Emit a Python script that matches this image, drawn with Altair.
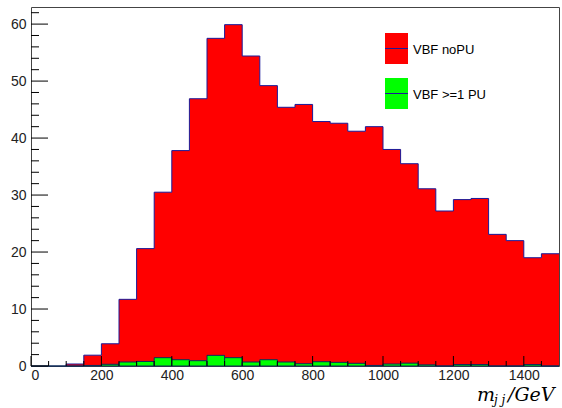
import altair as alt
import pandas as pd

# ---- data ----
bin_lo = list(range(0, 1500, 50))
red_vals = [0, 0, 0.35, 1.9, 3.9, 11.7, 20.6, 30.5, 37.8, 46.9, 57.5, 59.9, 54.4, 49.2, 45.4,
            45.9, 42.9, 42.6, 41.2, 42.0, 38.0, 35.5, 31.1, 27.2, 29.2, 29.4, 23.1, 22.0, 19.0, 19.7]
green_vals = [0, 0, 0, 0.1, 0.3, 0.7, 0.8, 1.46, 1.1, 0.93, 1.87, 1.46, 0.7, 1.1, 0.7,
              0.4, 0.75, 0.64, 0.47, 0.1, 0.35, 0.5, 0.2, 0, 0.25, 0.25, 0, 0, 0.25, 0]
legend_names = ["VBF noPU", "VBF >=1 PU"]
x_major = list(range(0, 1500, 200))
x_minor = [v for v in range(50, 1500, 50) if v % 200 != 0]
y_major = list(range(0, 61, 10))
y_minor = [v for v in range(2, 63, 2) if v % 10 != 0]

W, H = 528, 359
BW = 50
LINE = "#1a1a99"

df = pd.DataFrame({"lo": bin_lo, "hi": [b + BW for b in bin_lo], "red": red_vals, "green": green_vals})
# step outline for red histogram (points at bin starts plus the last edge)
red_first = 2
step_df = pd.DataFrame({
    "x": [bin_lo[red_first]] + bin_lo[red_first:] + [1500],
    "y": [0] + red_vals[red_first:] + [red_vals[-1]],
})

xs = alt.Scale(domain=[0, 1500], nice=False, zero=False)
ys = alt.Scale(domain=[0, 63], nice=False)

font = "Liberation Sans"

x_axis = alt.Axis(values=x_major, format="d", ticks=False, grid=False, domain=False, title=None,
                  labelFont=font, labelFontSize=14, labelPadding=2, labelColor="#222")
y_axis = alt.Axis(values=y_major, format="d", ticks=False, grid=False, domain=False, title=None,
                  labelFont=font, labelFontSize=14, labelPadding=5, labelColor="#222")

red_area = alt.Chart(step_df).mark_area(interpolate="step-after", color="#ff0000").encode(
    x=alt.X("x:Q", scale=xs, axis=x_axis),
    y=alt.Y("y:Q", scale=ys, axis=y_axis)
)
red_line = alt.Chart(step_df).mark_line(interpolate="step-after", color=LINE, strokeWidth=1).encode(
    x=alt.X("x:Q", scale=xs), y=alt.Y("y:Q", scale=ys)
)
green_bars = alt.Chart(df).mark_rect(color="#00ff00", stroke="#0d2a5a", strokeWidth=1).encode(
    x=alt.X("lo:Q", scale=xs), x2="hi:Q",
    y=alt.Y("green:Q", scale=ys), y2=alt.datum(0)
)

def xticks(vals, length):
    return alt.Chart(pd.DataFrame({"v": vals})).mark_rule(color="black", strokeWidth=1).encode(
        x=alt.X("v:Q", scale=xs), y=alt.value(H), y2=alt.value(H - length))

def yticks(vals, length):
    return alt.Chart(pd.DataFrame({"v": vals})).mark_rule(color="black", strokeWidth=1).encode(
        y=alt.Y("v:Q", scale=ys), x=alt.value(0), x2=alt.value(length))

# legend
leg = []
for i, (name, col) in enumerate(zip(legend_names, ["#ff0000", "#00ff00"])):
    top = 26 + i * 45
    leg.append(alt.Chart(pd.DataFrame({"n": [name]})).mark_rect(color=col).encode(
        x=alt.value(354), x2=alt.value(377), y=alt.value(top), y2=alt.value(top + 31)))
    leg.append(alt.Chart(pd.DataFrame({"n": [name]})).mark_rule(color=LINE, strokeWidth=1).encode(
        x=alt.value(354), x2=alt.value(377), y=alt.value(top + 15.5)))
    leg.append(alt.Chart(pd.DataFrame({"n": [name]})).mark_text(
        align="left", baseline="middle", font=font, fontSize=13, color="black").encode(
        text="n:N", x=alt.value(382), y=alt.value(top + 17)))

# x title  m_jj / GeV
title_font = "DejaVu Serif"
t1 = alt.Chart(pd.DataFrame({"t": ["m"]})).mark_text(
    align="left", baseline="alphabetic", font=title_font, fontStyle="italic", fontSize=19, color="black"
).encode(text="t:N", x=alt.value(446), y=alt.value(394))
t2 = alt.Chart(pd.DataFrame({"t": ["j j"]})).mark_text(
    align="left", baseline="alphabetic", font=title_font, fontStyle="italic", fontSize=12, color="black"
).encode(text="t:N", x=alt.value(463), y=alt.value(397))
t3 = alt.Chart(pd.DataFrame({"t": ["/GeV"]})).mark_text(
    align="left", baseline="alphabetic", font=title_font, fontStyle="italic", fontSize=19, color="black"
).encode(text="t:N", x=alt.value(477), y=alt.value(394))

chart = alt.layer(
    red_area, red_line, green_bars,
    xticks(x_major, 10), xticks(x_minor, 5),
    yticks(y_major, 17), yticks(y_minor, 8),
    *leg, t1, t2, t3
).properties(
    width=W, height=H,
    autosize=alt.AutoSizeParams(type="none"),
    padding={"left": 31, "top": 7, "right": 3, "bottom": 42},
    background="white",
).configure_view(stroke="#444", strokeWidth=1)

chart.save("out.html", embed_options={"renderer": "svg", "actions": False})
